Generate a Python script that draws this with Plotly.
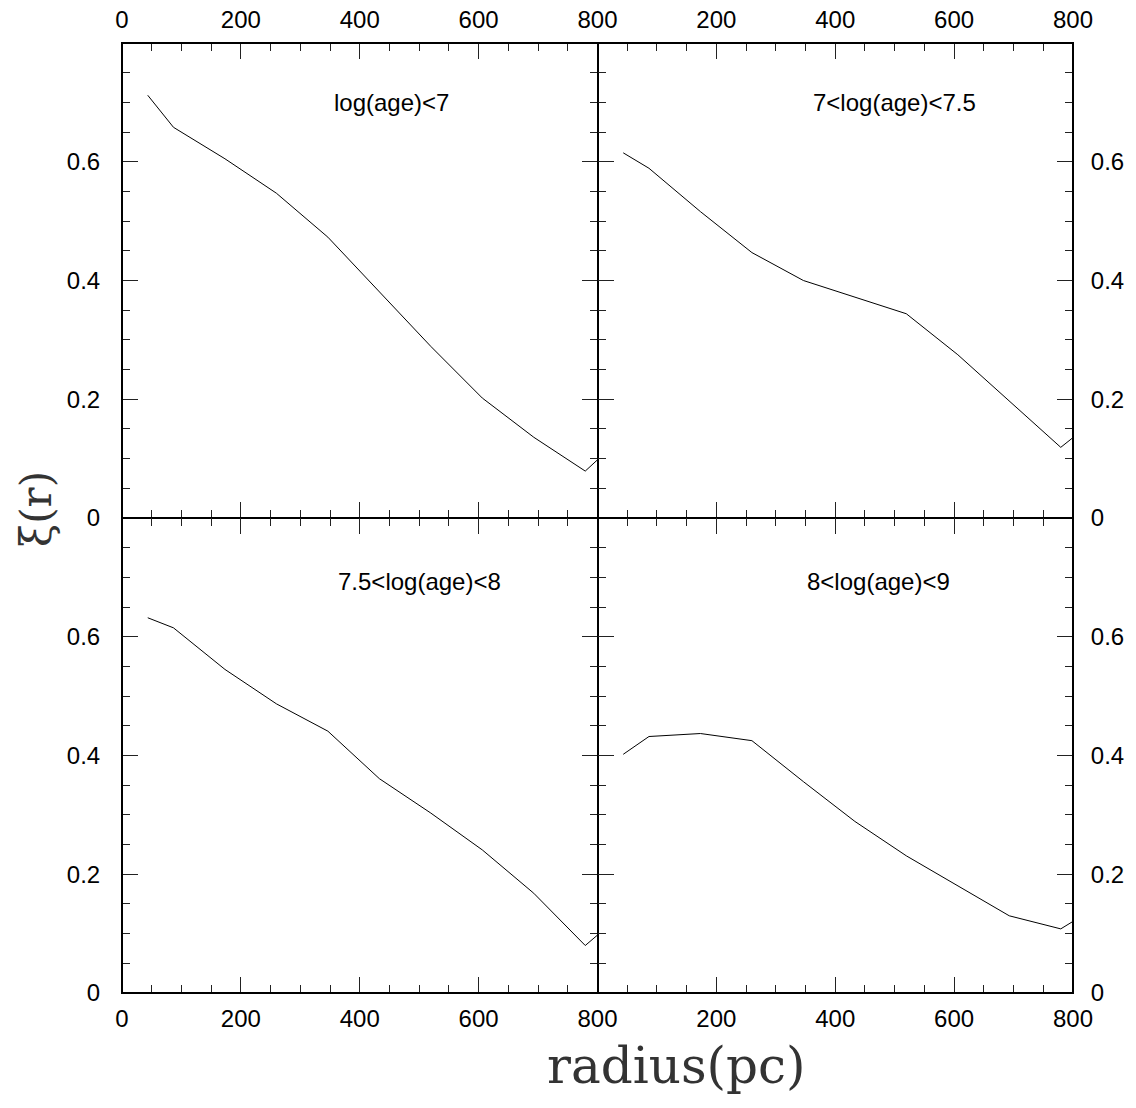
import plotly.graph_objects as go
from plotly.subplots import make_subplots

# radius bins (pc)
radius = [43.3, 86.6, 173.2, 259.8, 346.4, 433.0, 519.6, 606.2, 692.8, 779.4, 866.0]

# correlation function xi(r) for each age bin
xi_age_lt7 = [0.712, 0.658, 0.605, 0.547, 0.473, 0.381, 0.289, 0.202, 0.136, 0.079, 0.159]
xi_age_7_75 = [0.615, 0.589, 0.516, 0.447, 0.400, 0.372, 0.344, 0.275, 0.197, 0.119, 0.188]
xi_age_75_8 = [0.632, 0.615, 0.545, 0.487, 0.441, 0.361, 0.303, 0.241, 0.168, 0.080, 0.154]
xi_age_8_9 = [0.402, 0.432, 0.437, 0.425, 0.356, 0.289, 0.231, 0.181, 0.130, 0.108, 0.161]

panel_labels = ["log(age)<7", "7<log(age)<7.5", "7.5<log(age)<8", "8<log(age)<9"]
panel_series = [xi_age_lt7, xi_age_7_75, xi_age_75_8, xi_age_8_9]

x_tickvals = [0, 200, 400, 600, 800]
x_ticktext_left = ["0", "200", "400", "600", "800"]
x_ticktext_right = ["", "200", "400", "600", "800"]
y_tickvals = [0, 0.2, 0.4, 0.6]
y_ticktext = ["0", "0.2", "0.4", "0.6"]

fig = make_subplots(rows=2, cols=2, horizontal_spacing=0, vertical_spacing=0)

positions = [(1, 1), (1, 2), (2, 1), (2, 2)]
label_pos = [(0.567, 0.874), (0.624, 0.874), (0.626, 0.867), (0.592, 0.867)]

FONT = "Liberation Sans, Arial, Helvetica, sans-serif"

for i, ((r, c), ys, lab) in enumerate(zip(positions, panel_series, panel_labels)):
    fig.add_trace(
        go.Scatter(x=radius, y=ys, mode="lines",
                   line=dict(color="black", width=1), showlegend=False),
        row=r, col=c)
    fig.update_xaxes(
        range=[0, 800], tickvals=x_tickvals,
        ticktext=x_ticktext_left if c == 1 else x_ticktext_right,
        side="top" if r == 1 else "bottom",
        ticks="inside", ticklen=16, tickwidth=1.2, tickcolor="#222",
        minor=dict(dtick=50, ticks="inside", ticklen=8, tickwidth=1.2, tickcolor="#222"),
        showline=True, linecolor="black", linewidth=1, mirror="allticks",
        showgrid=False, zeroline=False, automargin=False,
        tickfont=dict(family=FONT, size=24, color="black"),
        ticklabelstandoff=4,
        row=r, col=c)
    fig.update_yaxes(
        range=[0, 0.8], tickvals=y_tickvals, ticktext=y_ticktext,
        side="left" if c == 1 else "right",
        ticks="inside", ticklen=16, tickwidth=1.2, tickcolor="#222",
        minor=dict(dtick=0.05, ticks="inside", ticklen=8, tickwidth=1.2, tickcolor="#222"),
        showline=True, linecolor="black", linewidth=1, mirror="allticks",
        showgrid=False, zeroline=False, automargin=False,
        tickfont=dict(family=FONT, size=24, color="black"),
        ticklabelstandoff=16 if c == 1 else 12,
        row=r, col=c)
    xref = "x domain" if i == 0 else f"x{i+1} domain"
    yref = "y domain" if i == 0 else f"y{i+1} domain"
    fig.add_annotation(text=lab, xref=xref, yref=yref,
                       x=label_pos[i][0], y=label_pos[i][1],
                       xanchor="center", yanchor="middle", showarrow=False,
                       font=dict(family=FONT, size=24, color="black"))

# outer frame, slightly heavier like the original
fig.add_shape(type="rect", xref="paper", yref="paper", x0=0, y0=0, x1=1, y1=1,
              line=dict(color="black", width=2), fillcolor="rgba(0,0,0,0)", layer="above")

fig.add_annotation(text="radius(pc)", xref="paper", yref="paper",
                   x=0.583, y=-0.077, xanchor="center", yanchor="middle",
                   showarrow=False, borderpad=0,
                   font=dict(family="DejaVu Serif, Liberation Serif, serif", size=50, color="#333"))
fig.add_annotation(text="ξ(r)", xref="paper", yref="paper",
                   x=-0.09, y=0.51, xanchor="center", yanchor="middle",
                   textangle=-90, showarrow=False, borderpad=0,
                   font=dict(family="DejaVu Serif, Liberation Serif, serif", size=42, color="#333"))

fig.update_layout(
    width=1136, height=1108,
    margin=dict(l=122, r=63, t=43, b=115),
    paper_bgcolor="white", plot_bgcolor="white",
)

fig.write_html("out.html")
